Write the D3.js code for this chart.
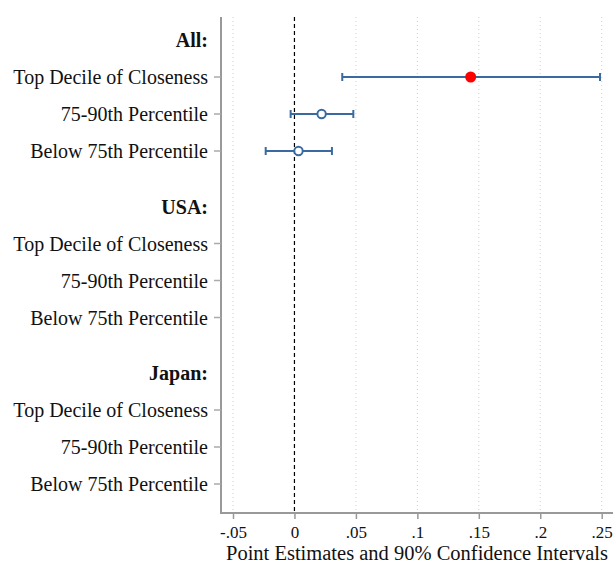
<!DOCTYPE html>
<html>
<head>
<meta charset="utf-8">
<script src="https://cdn.jsdelivr.net/npm/d3@7"></script>
<style>
  body { margin: 0; background: #fff; }
  text { font-family: "Liberation Serif", "DejaVu Serif", serif; fill: #111; }
</style>
</head>
<body>
<svg id="chart" width="613" height="565"></svg>
<script>
// rows of the coefficient plot, top to bottom
let groups = ["All:", "USA:", "Japan:"];
let items = ["Top Decile of Closeness", "75-90th Percentile", "Below 75th Percentile"];
// estimates per group (null = not shown)
let est = [[0.1434, 0.0221, 0.0033], [null, null, null], [null, null, null]];
let lo = [[0.0389, -0.0031, -0.0234], [null, null, null], [null, null, null]];
let hi = [[0.2486, 0.0479, 0.0305], [null, null, null], [null, null, null]];
let signif = [[true, false, false], [false, false, false], [false, false, false]];
let xTicks = [-0.05, 0, 0.05, 0.1, 0.15, 0.2, 0.25];
let xTitle = "Point Estimates and 90% Confidence Intervals";

let svg = d3.select("#chart");
let pLeft = 221, pRight = 613, pTop = 17, pBottom = 513;

let x = d3.scaleLinear().domain([-0.05, 0.25]).range([233, 601.7]);

// row position: heading at g*4.5, items after it
let rows = [];
groups.forEach((g, gi) => {
  rows.push({label: g, pos: gi * 4.5, head: true});
  items.forEach((it, ii) => {
    rows.push({
      label: it, pos: gi * 4.5 + ii + 1, head: false,
      est: est[gi][ii], lo: lo[gi][ii], hi: hi[gi][ii], sig: signif[gi][ii]
    });
  });
});
let y = d3.scaleLinear().domain([0, 12]).range([40, 484]);

// grid
svg.append("g").selectAll("line").data(xTicks.filter(d => d !== 0)).join("line")
  .attr("x1", d => x(d)).attr("x2", d => x(d))
  .attr("y1", pTop).attr("y2", pBottom)
  .attr("stroke", "#cfcfcf").attr("stroke-width", 1).attr("stroke-dasharray", "1,3");

// zero reference line
svg.append("line")
  .attr("x1", x(0)).attr("x2", x(0)).attr("y1", pTop).attr("y2", pBottom)
  .attr("stroke", "#000").attr("stroke-width", 1.2).attr("stroke-dasharray", "4,3");

// x axis, stata style labels (-.05, 0, .05 ...)
let xAxis = d3.axisBottom(x).tickValues(xTicks).tickSize(6).tickPadding(7)
  .tickFormat(d => d === 0 ? "0" : String(+d.toFixed(2)).replace(/^(-?)0\./, "$1."));
let gx = svg.append("g").attr("transform", `translate(0,${pBottom})`).call(xAxis);
gx.select(".domain").remove();
gx.selectAll(".tick line").attr("stroke", "#999").attr("stroke-width", 1.5);
gx.selectAll(".tick text").style("font-size", "17px").attr("fill", "#111");
svg.append("line").attr("x1", pLeft).attr("x2", pRight).attr("y1", pBottom).attr("y2", pBottom)
  .attr("stroke", "#999").attr("stroke-width", 2);

svg.append("text").attr("x", (pLeft + pRight) / 2).attr("y", 560)
  .attr("text-anchor", "middle").style("font-size", "20.5px").text(xTitle);

// y axis
svg.append("line").attr("x1", pLeft).attr("x2", pLeft).attr("y1", pTop).attr("y2", pBottom + 1)
  .attr("stroke", "#999").attr("stroke-width", 2);
let gy = svg.append("g");
gy.selectAll("line").data(rows.filter(r => !r.head)).join("line")
  .attr("x1", pLeft - 7).attr("x2", pLeft).attr("y1", r => y(r.pos)).attr("y2", r => y(r.pos))
  .attr("stroke", "#aaa").attr("stroke-width", 1.5);
gy.selectAll("text").data(rows).join("text")
  .attr("x", pLeft - 13).attr("y", r => y(r.pos)).attr("dy", "0.35em")
  .attr("text-anchor", "end")
  .style("font-size", "20px")
  .style("font-weight", r => r.head ? "bold" : "normal")
  .text(r => r.label);

// confidence intervals
let blue = "#3b6aa0";
let pts = rows.filter(r => !r.head && r.est !== null);
let ci = svg.append("g");
ci.selectAll("line.ci").data(pts).join("line").attr("class", "ci")
  .attr("x1", r => x(r.lo)).attr("x2", r => x(r.hi)).attr("y1", r => y(r.pos)).attr("y2", r => y(r.pos))
  .attr("stroke", blue).attr("stroke-width", 2);
ci.selectAll("line.caplo").data(pts).join("line").attr("class", "caplo")
  .attr("x1", r => x(r.lo)).attr("x2", r => x(r.lo)).attr("y1", r => y(r.pos) - 4).attr("y2", r => y(r.pos) + 4)
  .attr("stroke", blue).attr("stroke-width", 2);
ci.selectAll("line.caphi").data(pts).join("line").attr("class", "caphi")
  .attr("x1", r => x(r.hi)).attr("x2", r => x(r.hi)).attr("y1", r => y(r.pos) - 4).attr("y2", r => y(r.pos) + 4)
  .attr("stroke", blue).attr("stroke-width", 2);

// point estimates
svg.append("g").selectAll("circle").data(pts).join("circle")
  .attr("cx", r => x(r.est)).attr("cy", r => y(r.pos))
  .attr("r", r => r.sig ? 5.5 : 4.2)
  .attr("fill", r => r.sig ? "#ff0000" : "#fff")
  .attr("stroke", r => r.sig ? "#ff0000" : blue)
  .attr("stroke-width", r => r.sig ? 0 : 2);
</script>
</body>
</html>
